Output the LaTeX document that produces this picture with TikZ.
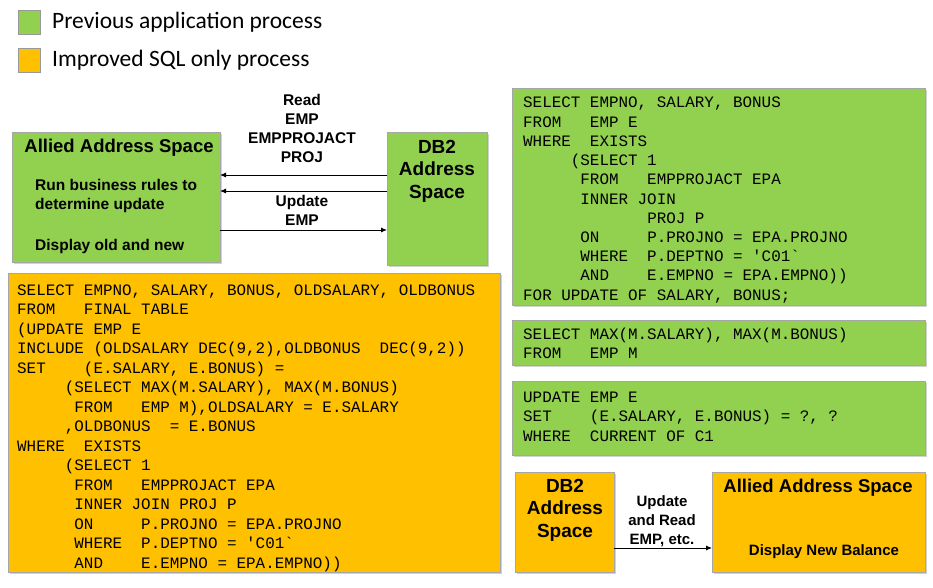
\documentclass[tikz,border=0pt]{standalone}
\usepackage{fontspec}
\setmainfont{Liberation Sans}
\newfontfamily\lgd{Carlito}
\newfontfamily\mono{Liberation Mono}
\usetikzlibrary{shadows,arrows.meta}
\definecolor{gr}{HTML}{92D050}
\definecolor{og}{HTML}{FFC000}
\tikzset{
 box/.style={draw=gray!70,line width=0.6pt,drop shadow={opacity=0.35,shadow xshift=2pt,shadow yshift=-2pt}},
 code/.style={inner sep=0,anchor=base west,font=\mono\fontsize{15.9}{17}\selectfont},
 ttl/.style={inner sep=0,font=\bfseries\fontsize{18.5}{22}\selectfont,align=center},
 txt/.style={inner sep=0,font=\bfseries\fontsize{15.5}{19.5}\selectfont,align=left},
 lbl/.style={inner sep=0,font=\bfseries\fontsize{15.5}{19}\selectfont,align=center},
 arr/.style={-{Latex[length=6pt,width=5pt]},line width=0.9pt},
 lg/.style={inner sep=0,anchor=west,font=\lgd\fontsize{23.5}{26}\selectfont}
}
\begin{document}
\begin{tikzpicture}[x=1pt,y=-1pt]
\useasboundingbox[fill=white] (0,0) rectangle (933,588);
% legend
\draw[fill=gr,draw=gray!80] (18,10) rectangle (40,34);
\node[lg] (l1) at (52,22) {Previous application process};
\draw[fill=og,draw=gray!80] (18,48) rectangle (40,72);
\node[lg] (l2) at (52,60) {Improved SQL only process};
% top diagram
\draw[box,fill=gr] (12,132) rectangle (220,262);
\node[ttl] (a1) at (119,148) {Allied Address Space};
\node[txt,anchor=west] (a2) at (35,196) {Run business rules to\\determine update};
\node[txt,anchor=west] (a3) at (35,246) {Display old and new};
\draw[box,fill=gr] (387,132) rectangle (487,265);
\node[ttl,font=\bfseries\fontsize{19}{22.5}\selectfont] (d1) at (437,171) {DB2\\Address\\Space};
\coordinate (r1) at (387,175); \coordinate (l1e) at (220,175);
\coordinate (r2) at (387,191); \coordinate (l2e) at (220,191);
\coordinate (l3) at (220,230); \coordinate (r3) at (387,230);
\draw[arr] (r1) -- (l1e);
\draw[arr] (r2) -- (l2e);
\draw[arr] (l3) -- (r3);
\node[lbl] (t1) at (302,128) {Read\\EMP\\EMPPROJACT\\PROJ};
\node[lbl] (t2) at (302,210) {Update\\EMP};
% orange code box
\draw[box,fill=og] (8,273) rectangle (500,572);
\foreach \t [count=\i] in {
{SELECT EMPNO, SALARY, BONUS, OLDSALARY, OLDBONUS},
{FROM~~~FINAL TABLE},
{(UPDATE EMP E},
{INCLUDE (OLDSALARY DEC(9,2),OLDBONUS~~DEC(9,2))},
{SET~~~~(E.SALARY, E.BONUS) =},
{~~~~~(SELECT MAX(M.SALARY), MAX(M.BONUS)},
{~~~~~~FROM~~~EMP M),OLDSALARY = E.SALARY},
{~~~~~,OLDBONUS~~= E.BONUS},
{WHERE~~EXISTS},
{~~~~~(SELECT 1},
{~~~~~~FROM~~~EMPPROJACT EPA},
{~~~~~~INNER JOIN PROJ P},
{~~~~~~ON~~~~~P.PROJNO = EPA.PROJNO},
{~~~~~~WHERE~~P.DEPTNO = 'C01`},
{~~~~~~AND~~~~E.EMPNO = EPA.EMPNO))}}
  \node[code] (o\i) at (17,295+19.5*\i-19.5) {\t};
% green code box 1
\draw[box,fill=gr] (512,88) rectangle (925,305);
\foreach \t [count=\i] in {
{SELECT EMPNO, SALARY, BONUS},
{FROM~~~EMP E},
{WHERE~~EXISTS},
{~~~~~(SELECT 1},
{~~~~~~FROM~~~EMPPROJACT EPA},
{~~~~~~INNER JOIN},
{~~~~~~~~~~~~~PROJ P},
{~~~~~~ON~~~~~P.PROJNO = EPA.PROJNO},
{~~~~~~WHERE~~P.DEPTNO = 'C01`},
{~~~~~~AND~~~~E.EMPNO = EPA.EMPNO))},
{FOR UPDATE OF SALARY, BONUS;}}
  \node[code] (g\i) at (523,108+19.2*\i-19.2) {\t};
% green box 2
\draw[box,fill=gr] (512,320) rectangle (925,365);
\node[code] (h1) at (523,339) {SELECT MAX(M.SALARY), MAX(M.BONUS)};
\node[code] (h2) at (523,358) {FROM~~~EMP M};
% green box 3
\draw[box,fill=gr] (512,381) rectangle (925,455);
\node[code] (k1) at (523,402) {UPDATE EMP E};
\node[code] (k2) at (523,421) {SET~~~~(E.SALARY, E.BONUS) = ?, ?};
\node[code] (k3) at (523,441) {WHERE~~CURRENT OF C1};
% bottom orange diagram
\draw[box,fill=og] (515,472) rectangle (614,572);
\node[ttl,font=\bfseries\fontsize{19}{22.5}\selectfont] (d2) at (565,510) {DB2\\Address\\Space};
\draw[box,fill=og] (712,472) rectangle (925,572);
\node[ttl] (a4) at (818,488) {Allied Address Space};
\node[txt,font=\bfseries\fontsize{15}{18}\selectfont] (a5) at (824,552) {Display New Balance};
\coordinate (b1) at (614,548); \coordinate (b2) at (712,548);
\draw[arr] (b1) -- (b2);
\node[lbl,font=\bfseries\fontsize{15}{19}\selectfont] (t3) at (662,521) {Update\\and Read\\EMP, etc.};
\end{tikzpicture}
\end{document}
